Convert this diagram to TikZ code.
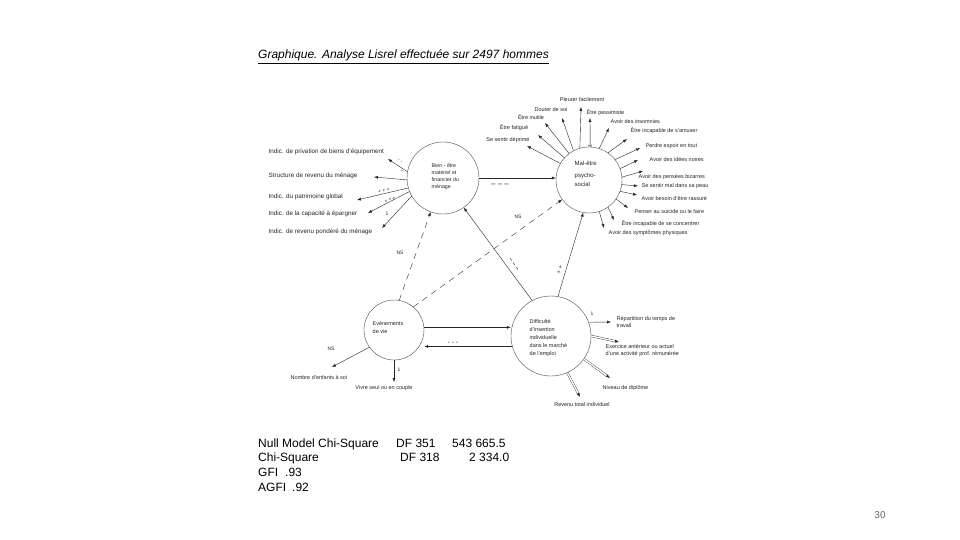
\documentclass[tikz,border=0pt]{standalone}
\usepackage{fontspec}
\setmainfont{Liberation Sans}
\usetikzlibrary{arrows.meta,calc}
\begin{document}
\begin{tikzpicture}[x=1pt,y=-1pt,
  circ/.style={draw=black!70, line width=0.4pt, circle, inner sep=0pt},
  lbl/.style={font=\fontsize{5.5}{6.5}\selectfont, text=black!85, inner sep=0.5pt},
  lbll/.style={font=\fontsize{6.3}{7}\selectfont, text=black!85, inner sep=0.5pt, anchor=west},
  conlbl/.style={font=\fontsize{5}{6}\selectfont, text=black!85, inner sep=0.5pt},
  arr/.style={draw=black!85, line width=0.4pt, -{Latex[length=4pt,width=3pt]}},
  darr/.style={arr, dash pattern=on 6pt off 5pt},
  dbl/.style={arr, double=white, double distance=1.4pt, line width=0.35pt},
  dashmark/.style={draw=black!85, line width=0.4pt, dash pattern=on 3pt off 2.5pt},
  txt/.style={font=\fontsize{12}{14}\selectfont, inner sep=0pt, anchor=base west}
]
\useasboundingbox[fill=white] (0,0) rectangle (960,540);

% title
\node[anchor=base west, inner sep=0pt, font=\fontsize{12}{14}\selectfont\itshape] (title) at (258,59) {\underline{Graphique. Analyse Lisrel effectuée sur 2497 hommes}};

% latent variables
\node[circ, minimum size=72pt] (bien) at (443,178) {};
\node[circ, minimum size=66pt] (mal) at (589,180) {};
\node[circ, minimum size=60pt] (evt) at (394,330) {};
\node[circ, minimum size=80pt] (dif) at (551,336) {};

\node[lbl, anchor=north west, align=left, font=\fontsize{5.3}{7}\selectfont] (tbien) at (431,163) {Bien - être\\matériel et\\financier du\\ménage};
\node[lbl, anchor=north west, align=left, font=\fontsize{6}{9}\selectfont] (tmal) at (574,160) {Mal-être\\[3pt]psycho-\\social};
\node[lbl, anchor=north west, align=left, font=\fontsize{5.5}{8}\selectfont] (tevt) at (372,321) {Evénements\\de vie};
\node[lbl, anchor=north west, align=left, font=\fontsize{5.5}{8}\selectfont] (tdif) at (529,319) {Difficulté\\d'insertion\\individuelle\\dans le marché\\de l'emploi};

% structural paths
\draw[arr] (bien.east) -- (bien.east -| mal.west);
\node[conlbl, font=\fontsize{8}{8}\selectfont] (l1) at (500,185) {– – –};
\draw[darr] (evt.80) -- (bien.250);
\node[conlbl] (l2) at (400,253) {NS};
\draw[darr] (evt.50) -- (mal.216);
\node[conlbl] (l3) at (518,217) {NS};
\draw[arr] (dif.118) -- (bien.305);
\coordinate (l4a) at (510,258);
\coordinate (l4b) at (519,271);
\draw[dashmark] (l4a) -- (l4b);
\draw[arr] (dif.80) -- (mal.260);
\node[conlbl, rotate=74, font=\fontsize{6}{6}\selectfont] (l5) at (560,270) {+ +};
\draw[arr, line width=0.6pt] (evt.5) -- (evt.5 -| dif.west);
\draw[arr, line width=0.6pt] (dif.195) -- (dif.195 -| evt.east);
\node[conlbl, font=\fontsize{7}{7}\selectfont] (l6) at (453,343) {- - -};

% indicators of Bien-etre
\node[lbll] (b1) at (268,152) {Indic. de privation de biens d'équipement};
\node[lbll] (b2) at (268,176) {Structure de revenu du ménage};
\node[lbll] (b3) at (268,197) {Indic. du patrimoine global};
\node[lbll] (b4) at (268,214) {Indic. de la capacité à épargner};
\node[lbll] (b5) at (268,232) {Indic. de revenu pondéré du ménage};
\coordinate (tb1) at (388,159);
\coordinate (tb2) at (374,177);
\coordinate (tb3) at (357,200);
\coordinate (tb4) at (368,213);
\coordinate (tb5) at (382,228);
\draw[arr] (bien.170) -- (tb1);
\draw[arr] (bien.183) -- (tb2);
\draw[arr] (bien.196) -- (tb3);
\draw[arr] (bien.202) -- (tb4);
\draw[arr] (bien.210) -- (tb5);
\node[conlbl, rotate=-34] (lb1) at (400,161) {- -};
\node[conlbl] (lb2) at (402,172) {--};
\node[conlbl, rotate=13] (lb3) at (384,191) {+ + +};
\node[conlbl, rotate=26] (lb4) at (390,200) {+ + +};
\node[conlbl] (lb5) at (387,214) {1};

% indicators of Mal-etre
\node[lbl, anchor=south] (m1) at (582,102) {Pleurer facilement};
\node[lbl, anchor=west] (m2) at (586,113) {Être pessimiste};
\node[lbl] (m3) at (551,110) {Douter de soi};
\node[lbl] (m4) at (531,117) {Être inutile};
\node[lbl] (m5) at (514,128) {Être fatigué};
\node[lbl] (m6) at (508,140) {Se sentir déprimé};
\node[lbl, anchor=west] (m7) at (610,122) {Avoir des insomnies};
\node[lbl, anchor=west] (m8) at (630,131) {Être incapable de s'amuser};
\node[lbl, anchor=west] (m9) at (645,146) {Perdre espoir en tout};
\node[lbl, anchor=west] (m10) at (649,160) {Avoir des idées noires};
\node[lbl, anchor=west] (m11) at (638,177) {Avoir des pensées bizarres};
\node[lbl, anchor=west] (m12) at (641,186) {Se sentir mal dans sa peau};
\node[lbl, anchor=west] (m13) at (641,199) {Avoir besoin d'être rassuré};
\node[lbl, anchor=west] (m14) at (634,212) {Penser au suicide ou le faire};
\node[lbl, anchor=west] (m15) at (621,224) {Être incapable de se concentrer};
\node[lbl, anchor=west] (m16) at (608,233) {Avoir des symptômes physiques};
\coordinate (tm1) at (581,107);
\coordinate (tm2) at (590,118);
\coordinate (tm3) at (562,118);
\coordinate (tm4) at (545,123);
\coordinate (tm5) at (538,135);
\coordinate (tm6) at (527,146);
\coordinate (tm7) at (609,128);
\coordinate (tm8) at (627,139);
\coordinate (tm9) at (640,148);
\coordinate (tm10) at (638,160);
\coordinate (tm11) at (643,171);
\coordinate (tm12) at (638,186);
\coordinate (tm13) at (637,195);
\coordinate (tm14) at (628,208);
\coordinate (tm15) at (614,220);
\coordinate (tm16) at (604,228);
\draw[arr] (mal.106) -- (tm1);
\draw[arr] (mal.88) -- (tm2);
\draw[arr] (mal.118) -- (tm3);
\draw[arr] (mal.127) -- (tm4);
\draw[arr] (mal.138) -- (tm5);
\draw[arr] (mal.150) -- (tm6);
\draw[arr] (mal.72) -- (tm7);
\draw[arr] (mal.55) -- (tm8);
\draw[arr] (mal.38) -- (tm9);
\draw[arr] (mal.20) -- (tm10);
\draw[arr] (mal.5) -- (tm11);
\draw[arr] (mal.-8) -- (tm12);
\draw[arr] (mal.-20) -- (tm13);
\draw[arr] (mal.-35) -- (tm14);
\draw[arr] (mal.-55) -- (tm15);
\draw[arr] (mal.-72) -- (tm16);
\node[conlbl, rotate=90] (lm2) at (590,146) {1};

% indicators of Evenements de vie
\node[lbl] (e1) at (319,377) {Nombre d'enfants à soi};
\node[lbl] (e2) at (384,388) {Vivre seul ou en couple};
\coordinate (te1) at (332,367);
\coordinate (te2) at (394,382);
\draw[arr] (evt.215) -- (te1);
\draw[arr] (evt.270) -- (te2);
\node[conlbl] (le1) at (331,349) {NS};
\node[conlbl] (le2) at (399,370) {1};

% indicators of Difficulte
\node[lbl, anchor=north west, align=left] (d1) at (616,316) {Répartition du temps de\\travail};
\node[lbl, anchor=north west, align=left] (d2) at (605,344) {Exercice antérieur ou actuel\\d'une activité prof. rémunérée};
\node[lbl, anchor=west] (d3) at (602,388) {Niveau de diplôme};
\node[lbl] (d4) at (582,405) {Revenu total individuel};
\coordinate (td1) at (611,322);
\coordinate (td2) at (619,342);
\coordinate (td3) at (610,378);
\coordinate (td4) at (580,397);
\draw[arr] (dif.20) -- (td1);
\draw[dbl] (dif.0) -- (td2);
\draw[dbl] (dif.-35) -- (td3);
\draw[dbl] (dif.-66) -- (td4);
\node[conlbl] (ld1) at (592,314) {1};

% statistics
\node[txt] (s1) at (258,447) {Null Model Chi-Square};
\node[txt] (s1b) at (396,447) {DF 351};
\node[txt] (s1c) at (452,447) {543 665.5};
\node[txt] (s2) at (258,461) {Chi-Square};
\node[txt] (s2b) at (400,461) {DF 318};
\node[txt] (s2c) at (469,461) {2 334.0};
\node[txt] (s3) at (258,476) {GFI};
\node[txt] (s3b) at (285,476) {.93};
\node[txt] (s4) at (258,491) {AGFI};
\node[txt] (s4b) at (292,491) {.92};

\node[font=\fontsize{10}{12}\selectfont, text=black!60, inner sep=0pt] (page) at (880,515) {30};
\end{tikzpicture}
\end{document}
